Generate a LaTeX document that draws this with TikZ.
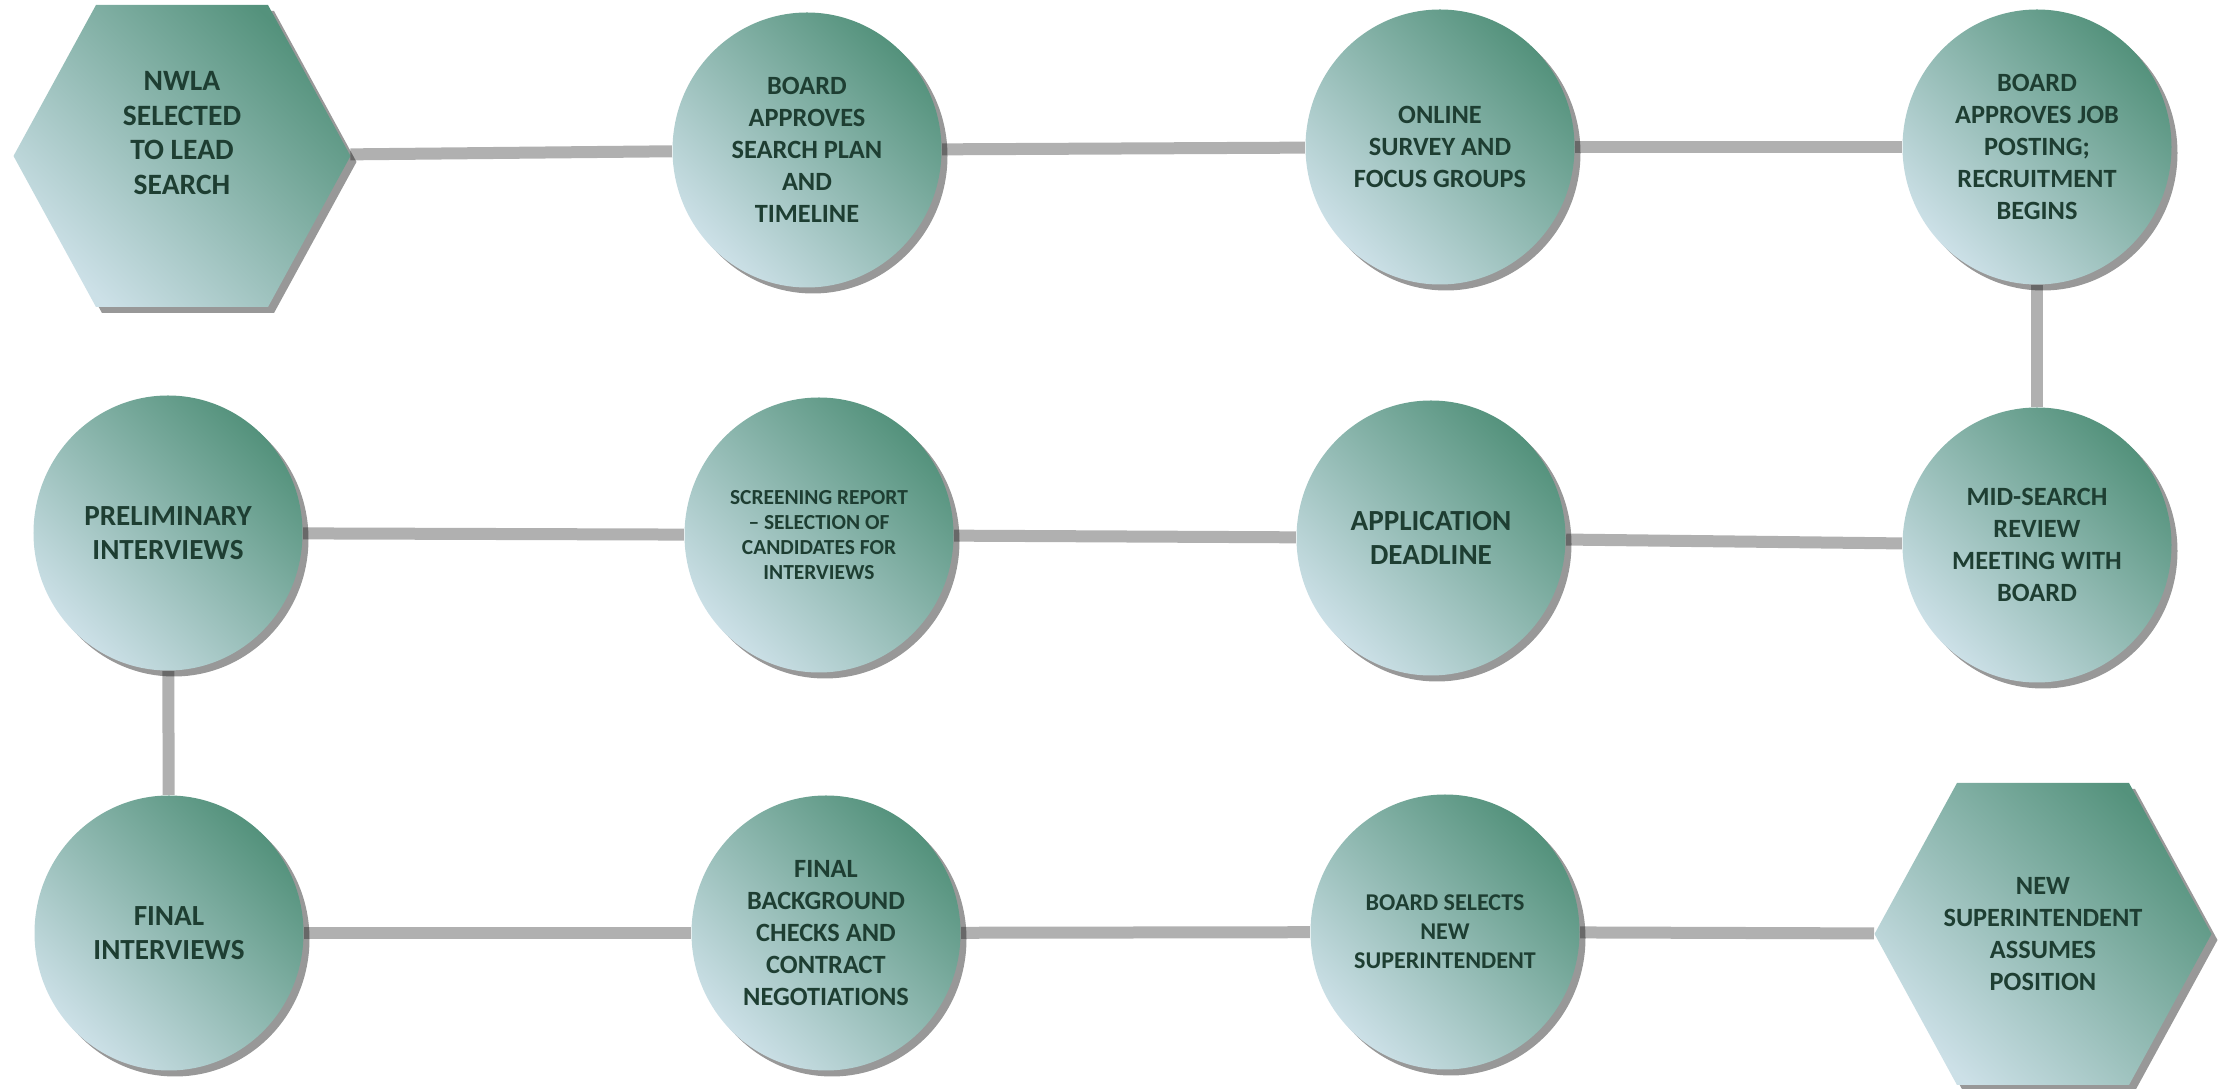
\documentclass[tikz,border=0pt]{standalone}
\usepackage{fontspec}
\setmainfont{Carlito}
\usetikzlibrary{shapes.geometric, shapes.symbols, shadows}

\definecolor{stepgreen}{RGB}{84,146,124}
\definecolor{stepblue}{RGB}{204,224,231}
\definecolor{steptext}{RGB}{30,62,50}
\definecolor{linkgray}{RGB}{176,176,176}
\definecolor{shadowgray}{RGB}{152,152,152}

\newcommand{\fstd}{\fontsize{7.5}{9.1}\selectfont\bfseries}
\newcommand{\fbig}{\fontsize{8.3}{9.7}\selectfont\bfseries}
\newcommand{\fsmall}{\fontsize{6.85}{8.3}\selectfont\bfseries}
\newcommand{\ftiny}{\fontsize{6.1}{7.1}\selectfont\bfseries}
\newcommand{\flead}{\fontsize{8.4}{9.8}\selectfont\bfseries}

\begin{document}
\begin{tikzpicture}

	\tikzstyle{tx}=[text=steptext,align=center,font=\fstd]
	\tikzstyle{look}=[shading=axis,top color=stepgreen,bottom color=stepblue,shading angle=-45,
		drop shadow={shadow xshift=0.6mm,shadow yshift=-0.6mm,fill=shadowgray,opacity=1}]
	\tikzstyle{round}=[look,tx,ellipse,minimum width=2.69cm,minimum height=2.75cm,inner sep=0pt]
	\tikzstyle{hexa}=[look,tx,signal,signal to=west and east,signal pointer angle=122.7,
		minimum width=3.37cm,minimum height=3.02cm,inner sep=0pt]
	\tikzstyle{link}=[draw=linkgray,line width=1.2mm,blend mode=multiply]

	\useasboundingbox (0,0) rectangle (22.24,-10.89);

	% first row
	\node[hexa,label={[tx,font=\flead,yshift=2.3mm]center:{NWLA\\SELECTED\\TO LEAD\\SEARCH}}] (lead) at (1.82,-1.56) {};
	\node[round] (plan) at (8.07,-1.50) {BOARD\\APPROVES\\SEARCH PLAN\\AND\\TIMELINE};
	\node[round] (survey) at (14.40,-1.47) {ONLINE\\SURVEY AND\\FOCUS GROUPS};
	\node[round] (posting) at (20.37,-1.47) {BOARD\\APPROVES JOB\\POSTING;\\RECRUITMENT\\BEGINS};

	% second row
	\node[round,font=\fbig] (prelim) at (1.68,-5.33) {PRELIMINARY\\INTERVIEWS};
	\node[round,font=\ftiny] (screen) at (8.19,-5.35) {SCREENING REPORT\\– SELECTION OF\\CANDIDATES FOR\\INTERVIEWS};
	\node[round,font=\fbig] (deadline) at (14.31,-5.38) {APPLICATION\\DEADLINE};
	\node[round] (review) at (20.37,-5.45) {MID-SEARCH\\REVIEW\\MEETING WITH\\BOARD};

	% third row
	\node[round,font=\fbig] (final) at (1.69,-9.33) {FINAL\\INTERVIEWS};
	\node[round] (checks) at (8.26,-9.33) {FINAL\\BACKGROUND\\CHECKS AND\\CONTRACT\\NEGOTIATIONS};
	\node[round,font=\fsmall] (select) at (14.45,-9.32) {BOARD SELECTS\\NEW\\SUPERINTENDENT};
	\node[hexa,label={[tx]center:{NEW\\SUPERINTENDENT\\ASSUMES\\POSITION}}] (assume) at (20.43,-9.34) {};

	\draw[link] (lead) -- (plan);
	\draw[link] (plan) -- (survey);
	\draw[link] (survey) -- (posting);
	\draw[link] (posting) -- (review);
	\draw[link] (review) -- (deadline);
	\draw[link] (deadline) -- (screen);
	\draw[link] (screen) -- (prelim);
	\draw[link] (prelim) -- (final);
	\draw[link] (final) -- (checks);
	\draw[link] (checks) -- (select);
	\draw[link] (select) -- (assume);
\end{tikzpicture}
\end{document}
